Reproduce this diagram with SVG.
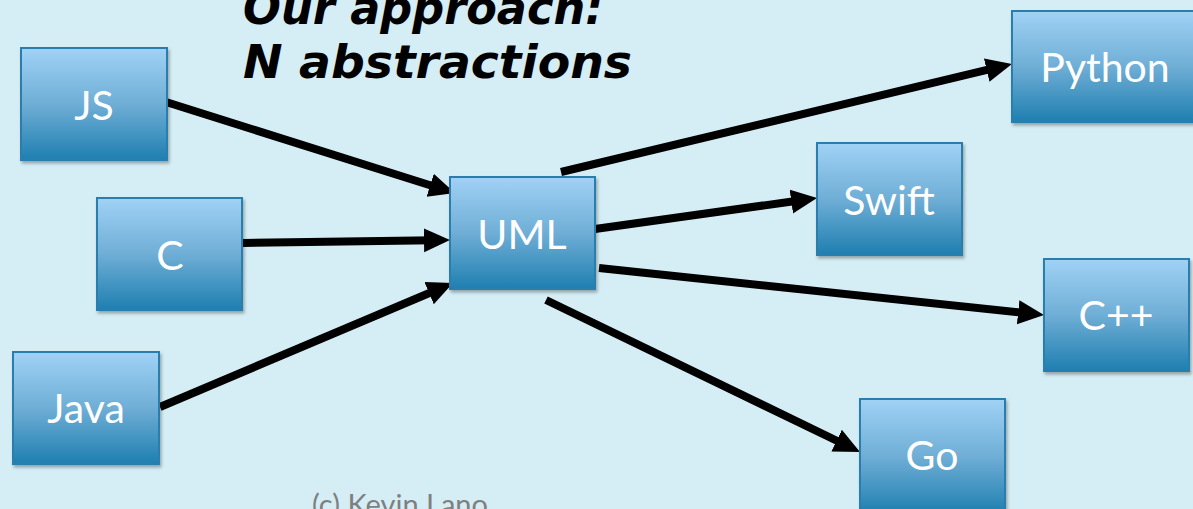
<svg xmlns="http://www.w3.org/2000/svg" width="1193" height="509" viewBox="0 0 1193 509">
<style>
.box{fill:url(#g);stroke:#2B7EAE;stroke-width:2;filter:url(#sh)}
.lbl{font-family:Lato,"Open Sans",sans-serif;font-size:41px;fill:#ffffff;text-anchor:middle}
.edge{stroke:#000;stroke-width:8;fill:none;marker-end:url(#ah)}
.title{font-family:"DejaVu Sans",Verdana,sans-serif;font-weight:bold;font-style:italic;font-size:46px;fill:#000}
.copy{font-family:Lato,"Open Sans",sans-serif;font-size:29px;fill:#7f7f7f}
</style>
<defs>
<linearGradient id="g" x1="0" y1="0" x2="0" y2="1">
<stop offset="0" stop-color="#A0D2F5"/>
<stop offset="0.5" stop-color="#6FAED6"/>
<stop offset="1" stop-color="#1E7FB0"/>
</linearGradient>
<filter id="sh" x="-10%" y="-10%" width="130%" height="130%">
<feDropShadow dx="1.5" dy="2.5" stdDeviation="1.5" flood-color="#000" flood-opacity="0.3"/>
</filter>
<marker id="ah" markerUnits="userSpaceOnUse" viewBox="0 -13 26 26" markerWidth="26" markerHeight="26" refX="10" refY="0" orient="auto">
<path d="M0,-12 L26,0 L0,12 z" fill="#000"/>
</marker>
</defs>
<rect width="1193" height="509" fill="#D5EDF4"/>
<g id="title">
<text class="title" x="243" y="24" textLength="360" lengthAdjust="spacingAndGlyphs">Our approach:</text>
<text class="title" x="243" y="78" textLength="389" lengthAdjust="spacingAndGlyphs">N abstractions</text>
</g>
<g id="connectors">
<line class="edge" x1="166" y1="102" x2="439.7" y2="188.2"/>
<line class="edge" x1="243" y1="243" x2="434" y2="240.2"/>
<line class="edge" x1="160" y1="407" x2="438.3" y2="289.2"/>
<line class="edge" x1="561" y1="172" x2="996.4" y2="67.7"/>
<line class="edge" x1="595" y1="229" x2="801.2" y2="200.2"/>
<line class="edge" x1="599" y1="268" x2="1028.1" y2="313.3"/>
<line class="edge" x1="546" y1="300" x2="845.6" y2="445"/>
</g>
<g id="JS"><rect class="box" x="21" y="48" width="146" height="112"/><text class="lbl" x="94" y="120">JS</text></g>
<g id="C"><rect class="box" x="97" y="198" width="145" height="112"/><text class="lbl" x="170" y="270">C</text></g>
<g id="Java"><rect class="box" x="13" y="352" width="146" height="112"/><text class="lbl" x="86" y="423">Java</text></g>
<g id="UML"><rect class="box" x="450" y="177" width="145" height="112"/><text class="lbl" x="522" y="249">UML</text></g>
<g id="Python"><rect class="box" x="1012" y="11" width="182" height="111"/><text class="lbl" x="1105" y="82">Python</text></g>
<g id="Swift"><rect class="box" x="817" y="143" width="145" height="112"/><text class="lbl" x="889" y="215">Swift</text></g>
<g id="Cpp"><rect class="box" x="1044" y="259" width="145" height="112"/><text class="lbl" x="1116" y="330">C++</text></g>
<g id="Go"><rect class="box" x="860" y="399" width="145" height="115"/><text class="lbl" x="932" y="470">Go</text></g>
<text class="copy" x="312" y="515">(c) Kevin Lano</text>
</svg>
